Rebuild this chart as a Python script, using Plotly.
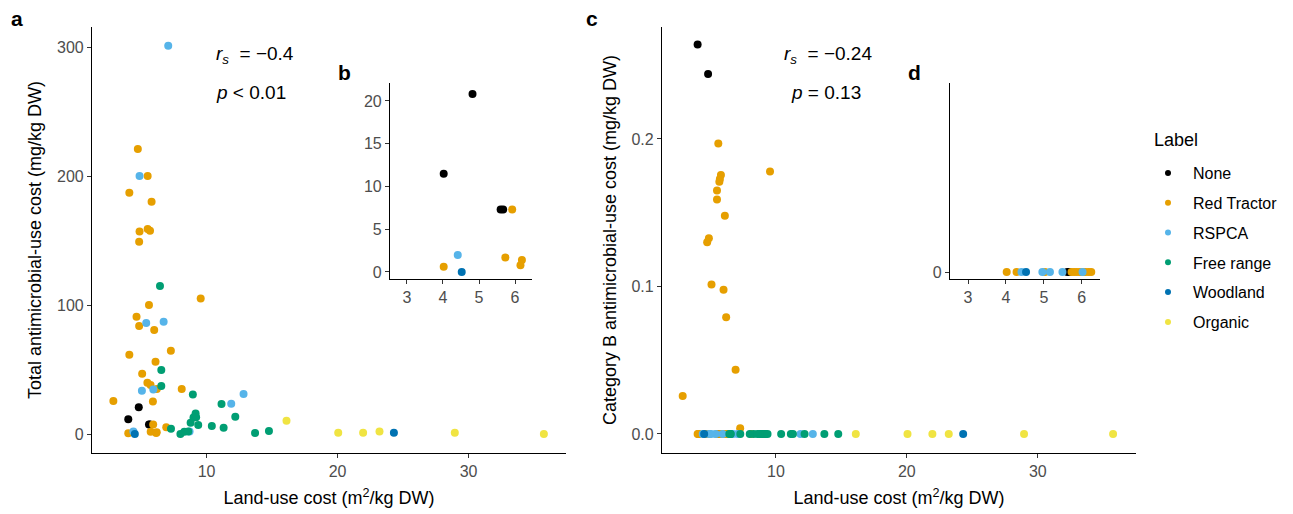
import plotly.graph_objects as go

# ---------------- data ----------------
labels = ["None", "Red Tractor", "RSPCA", "Free range", "Woodland", "Organic"]
colors = ["#000000", "#E69F00", "#56B4E9", "#009E73", "#0072B2", "#F0E442"]

# Land-use cost (m2/kg DW), total AMU (mg/kg DW), category B AMU (mg/kg DW)
none_land = [4.02, 4.82, 5.60, 5.67]
none_total = [11.5, 20.8, 7.3, 7.3]
none_catb = [0.264, 0.244, 0.0, 0.0]

redtractor_land = [4.75, 5.50, 4.10, 5.80, 5.50, 5.68, 4.88, 4.85, 9.55, 5.60,
                   4.65, 4.85, 6.00, 7.27, 4.10, 6.10, 5.08, 5.48, 5.72, 6.20,
                   8.10, 2.88, 5.90, 5.92, 6.92, 4.02, 5.73, 6.19, 6.15]
redtractor_total = [221, 200, 187, 180, 159, 157.6, 157, 149, 105, 100,
                    91, 83.7, 80.6, 64.6, 61.5, 56, 46.8, 39.8, 38, 35,
                    34.9, 25.6, 25.3, 7.3, 5.2, 0.6, 1.7, 1.4, 0.8]
redtractor_catb = [0.130, 0.165, 0.0, 0.1755, 0.159, 0.171, 0.1327, 0.0, 0.178, 0.197,
                   0.0, 0.0, 0.0977, 0.0039, 0.0, 0.148, 0.1014, 0.0, 0.1728, 0.0791,
                   0.0, 0.0258, 0.0, 0.0, 0.0435, 0.0, 0.0, 0.0, 0.0]

rspca_land = [7.07, 4.88, 5.39, 6.72, 5.06, 5.93, 12.82, 11.88, 4.41, 8.70]
rspca_total = [301, 200, 86, 87, 33.6, 34.6, 31, 23.5, 2.0, 2.0]
rspca_catb = [0, 0, 0, 0, 0, 0, 0, 0, 0, 0]

freerange_land = [6.44, 6.54, 6.54, 8.95, 11.14, 12.19, 9.16, 9.00, 9.20, 8.78,
                  9.36, 10.40, 11.30, 7.28, 8.00, 8.30, 8.60, 13.70, 14.76]
freerange_total = [114.7, 49.6, 37.2, 30.7, 23.3, 13.4, 16, 12.9, 13, 8.8,
                   7, 6.2, 4.9, 4.1, 0, 1.8, 2.0, 0.8, 2.3]
freerange_catb = [0] * 19

woodland_land = [4.52, 24.30]
woodland_total = [0.0, 1.0]
woodland_catb = [0.0, 0.0]

organic_land = [16.10, 20.05, 21.95, 23.20, 28.95, 35.75]
organic_total = [10.3, 1.0, 1.0, 2.0, 1.0, 0.0]
organic_catb = [0, 0, 0, 0, 0, 0]

# inset b (total AMU, subset)
b_none_land = [4.02, 4.82, 5.60, 5.67]
b_none_total = [11.5, 20.8, 7.3, 7.3]
b_redtractor_land = [5.92, 4.02, 5.73, 6.19, 6.15]
b_redtractor_total = [7.3, 0.6, 1.7, 1.4, 0.8]
b_rspca_land = [4.41]
b_rspca_total = [2.0]
b_woodland_land = [4.52]
b_woodland_total = [0.0]

# inset d (category B AMU, subset: all zero)
d_none_land = [5.62, 5.67]
d_redtractor_land = [4.02, 4.28, 5.03, 5.73, 5.80, 5.87, 5.95, 6.03, 6.10, 6.18, 6.25]
d_rspca_land = [4.41, 4.96, 5.16, 5.49, 6.02]
d_woodland_land = [4.53]

main_series = [
    (none_land, none_total, none_catb),
    (redtractor_land, redtractor_total, redtractor_catb),
    (rspca_land, rspca_total, rspca_catb),
    (freerange_land, freerange_total, freerange_catb),
    (woodland_land, woodland_total, woodland_catb),
    (organic_land, organic_total, organic_catb),
]
inset_b = [
    (b_none_land, b_none_total), (b_redtractor_land, b_redtractor_total),
    (b_rspca_land, b_rspca_total), ([], []), (b_woodland_land, b_woodland_total), ([], []),
]
inset_d = [d_none_land, d_redtractor_land, d_rspca_land, [], d_woodland_land, []]

# ---------------- figure ----------------
W, H = 1293, 514
FONT = "Liberation Sans, Arial, sans-serif"

def px_x(p):
    return p / W

def px_y(p):
    return 1 - p / H

fig = go.Figure()

for i, lab in enumerate(labels):
    x, tot, cb = main_series[i]
    fig.add_trace(go.Scatter(x=x, y=tot, mode="markers", xaxis="x", yaxis="y",
                             marker=dict(color=colors[i], size=8), showlegend=False, name=lab))
    fig.add_trace(go.Scatter(x=x, y=cb, mode="markers", xaxis="x3", yaxis="y3",
                             marker=dict(color=colors[i], size=8), showlegend=False, name=lab))
    bx, by = inset_b[i]
    if bx:
        fig.add_trace(go.Scatter(x=bx, y=by, mode="markers", xaxis="x2", yaxis="y2",
                                 marker=dict(color=colors[i], size=8), showlegend=False, name=lab))
    dx = inset_d[i]
    if dx:
        fig.add_trace(go.Scatter(x=dx, y=[0] * len(dx), mode="markers", xaxis="x4", yaxis="y4",
                                 marker=dict(color=colors[i], size=8), showlegend=False, name=lab))

# legend entries
for i, lab in enumerate(labels):
    fig.add_trace(go.Scatter(x=[None], y=[None], mode="markers", xaxis="x", yaxis="y",
                             marker=dict(color=colors[i], size=6), name=lab,
                             legendgroup=lab, showlegend=True))


def axis(domain_px, rng, tickvals, anchor, horizontal, ticktext=None, title=None, standoff=None):
    if horizontal:
        dom = [px_x(domain_px[0]), px_x(domain_px[1])]
    else:
        dom = [px_y(domain_px[1]), px_y(domain_px[0])]
    d = dict(domain=dom, range=rng, anchor=anchor, showline=True, linecolor="black",
             linewidth=1.2, ticks="outside", ticklen=4, tickwidth=1.2, tickcolor="#333333",
             tickfont=dict(size=16, color="#4D4D4D", family=FONT), showgrid=False,
             zeroline=False, tickvals=tickvals, fixedrange=True, automargin=False)
    if ticktext is not None:
        d["ticktext"] = ticktext
    if title is not None:
        d["title"] = dict(text=title, font=dict(size=18, color="black", family=FONT),
                          standoff=standoff)
    return d


xtitle = "Land-use cost (m<sup>2</sup>/kg DW)"

fig.update_layout(
    width=W, height=H,
    margin=dict(l=0, r=0, t=0, b=0),
    paper_bgcolor="white", plot_bgcolor="white",
    font=dict(family=FONT, color="black"),
    xaxis=axis([92, 566], [1.25, 37.44], [10, 20, 30], "y", True, title=xtitle, standoff=12),
    yaxis=axis([27, 453], [-14.7, 315.5], [0, 100, 200, 300], "x", False,
               title="Total antimicrobial-use cost (mg/kg DW)", standoff=10),
    xaxis2=axis([390, 532], [2.53, 6.47], [3, 4, 5, 6], "y2", True),
    yaxis2=axis([83, 279], [-0.82, 22.1], [0, 5, 10, 15, 20], "x2", False),
    xaxis3=axis([662, 1136], [1.3, 37.5], [10, 20, 30], "y3", True, title=xtitle, standoff=12),
    yaxis3=axis([27, 453], [-0.0129, 0.2759], [0, 0.1, 0.2], "x3", False,
                ticktext=["0.0", "0.1", "0.2"],
                title="Category B antimicrobial-use cost (mg/kg DW)", standoff=10),
    xaxis4=axis([950, 1100], [2.525, 6.48], [3, 4, 5, 6], "y4", True),
    yaxis4=axis([83, 279], [-0.037, 1.0], [0], "x4", False),
    legend=dict(x=px_x(1143), y=px_y(156), xanchor="left", yanchor="top",
                font=dict(size=16, color="black", family=FONT), itemwidth=40,
                traceorder="grouped", tracegroupgap=6, bgcolor="rgba(0,0,0,0)"),
)

annots = [
    dict(text="<b>a</b>", x=17, y=19, size=21, anchor="center"),
    dict(text="<b>b</b>", x=345, y=73, size=21, anchor="center"),
    dict(text="<b>c</b>", x=592, y=19, size=21, anchor="center"),
    dict(text="<b>d</b>", x=914, y=73, size=21, anchor="center"),
    dict(text="<i>r<sub>s</sub></i>  = \u22120.4", x=255, y=55, size=19, anchor="center"),
    dict(text="<i>p</i> &lt; 0.01", x=251, y=92, size=19, anchor="center"),
    dict(text="<i>r<sub>s</sub></i>  = \u22120.24", x=828, y=55, size=19, anchor="center"),
    dict(text="<i>p</i> = 0.13", x=826, y=92, size=19, anchor="center"),
    dict(text="Label", x=1152, y=140, size=18, anchor="left"),
]
for a in annots:
    fig.add_annotation(text=a["text"], x=px_x(a["x"]), y=px_y(a["y"]), xref="paper", yref="paper",
                       xanchor=a["anchor"], yanchor="middle", showarrow=False,
                       font=dict(size=a["size"], color="black", family=FONT))

fig.write_html("out.html")
